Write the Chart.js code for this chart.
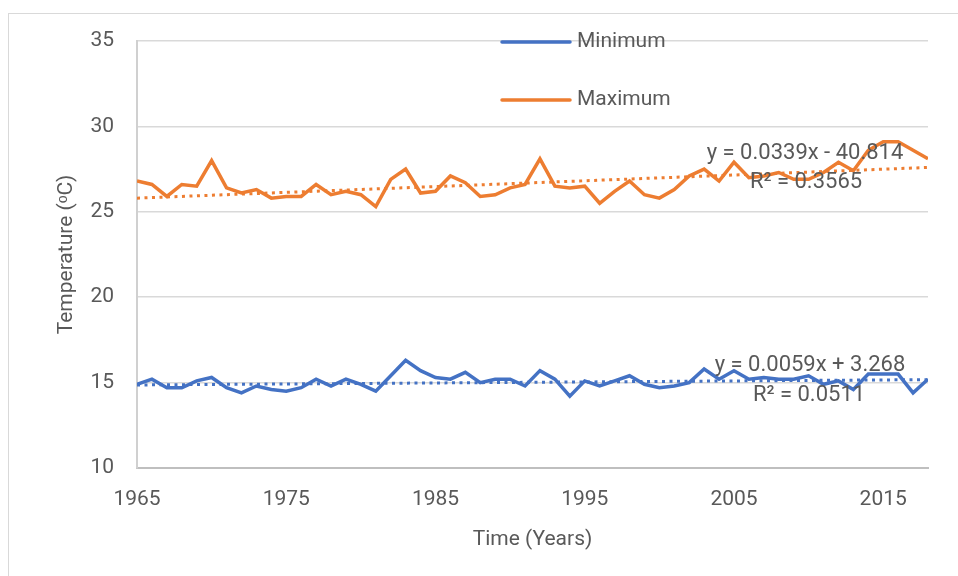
<!DOCTYPE html>
<html>
<head>
<meta charset="utf-8">
<script src="https://cdn.jsdelivr.net/npm/chart.js@4.4.1/dist/chart.umd.min.js"></script>
<style>
  html, body { margin: 0; padding: 0; background: #fff; }
  #wrap { position: relative; width: 958px; height: 576px; overflow: hidden; }
  #frame { position: absolute; left: 8px; top: 13px; width: 960px; height: 600px;
           border-left: 1px solid #d9d9d9; border-top: 1px solid #d9d9d9; }
  #chart { position: absolute; left: 0; top: 0; }
</style>
</head>
<body>
<div id="wrap">
  <div id="frame"></div>
  <canvas id="chart" width="958" height="576"></canvas>
</div>
<script>
// years on the x axis
const years = [1965, 1966, 1967, 1968, 1969, 1970, 1971, 1972, 1973, 1974,
  1975, 1976, 1977, 1978, 1979, 1980, 1981, 1982, 1983, 1984,
  1985, 1986, 1987, 1988, 1989, 1990, 1991, 1992, 1993, 1994,
  1995, 1996, 1997, 1998, 1999, 2000, 2001, 2002, 2003, 2004,
  2005, 2006, 2007, 2008, 2009, 2010, 2011, 2012, 2013, 2014,
  2015, 2016, 2017, 2018];

const minTemp = [14.9, 15.2, 14.7, 14.7, 15.1, 15.3, 14.7, 14.4, 14.8, 14.6,
  14.5, 14.7, 15.2, 14.8, 15.2, 14.9, 14.5, 15.4, 16.3, 15.7,
  15.3, 15.2, 15.6, 15.0, 15.2, 15.2, 14.8, 15.7, 15.2, 14.2,
  15.1, 14.8, 15.1, 15.4, 14.9, 14.7, 14.8, 15.0, 15.8, 15.2,
  15.7, 15.2, 15.3, 15.2, 15.2, 15.4, 14.9, 15.1, 14.6, 15.5,
  15.5, 15.5, 14.4, 15.2];

const maxTemp = [26.8, 26.6, 25.9, 26.6, 26.5, 28.0, 26.4, 26.1, 26.3, 25.8,
  25.9, 25.9, 26.6, 26.0, 26.2, 26.0, 25.3, 26.9, 27.5, 26.1,
  26.2, 27.1, 26.7, 25.9, 26.0, 26.4, 26.6, 28.1, 26.5, 26.4,
  26.5, 25.5, 26.2, 26.8, 26.0, 25.8, 26.3, 27.1, 27.5, 26.8,
  27.9, 27.0, 27.1, 27.3, 26.9, 26.9, 27.3, 27.9, 27.4, 28.6,
  29.1, 29.1, 28.6, 28.1];

// trendline equations printed on the chart: [slope, intercept]
const minTrend = [0.0059, 3.268];
const maxTrend = [0.0339, -40.814];
const minTrendText = ['y = 0.0059x + 3.268', 'R\u00B2 = 0.0511'];
const maxTrendText = ['y = 0.0339x - 40.814', 'R\u00B2 = 0.3565'];

const xTicks = [1965, 1975, 1985, 1995, 2005, 2015];
const seriesNames = ['Minimum', 'Maximum'];

const BLUE = '#4472C4';
const ORANGE = '#ED7D31';
const TEXT = '#595959';
const FONT = 'Roboto, "Liberation Sans", sans-serif';

function toPoints(values) {
  return years.map((y, i) => ({ x: y, y: values[i] }));
}

function trendPoints(coef) {
  const x0 = years[0];
  const x1 = years[years.length - 1];
  return [
    { x: x0, y: coef[0] * x0 + coef[1] },
    { x: x1, y: coef[0] * x1 + coef[1] }
  ];
}

// legend and trendline labels, laid out like the original
const annotations = {
  id: 'annotations',
  afterDatasetsDraw(chart) {
    const ctx = chart.ctx;
    ctx.save();
    ctx.font = '21px ' + FONT;
    ctx.fillStyle = TEXT;
    ctx.textBaseline = 'middle';

    // legend
    const items = [[seriesNames[0], BLUE, 42], [seriesNames[1], ORANGE, 100]];
    items.forEach(([name, color, y]) => {
      ctx.strokeStyle = color;
      ctx.lineWidth = 3.5;
      ctx.lineCap = 'round';
      ctx.beginPath();
      ctx.moveTo(502, y);
      ctx.lineTo(570, y);
      ctx.stroke();
      ctx.textAlign = 'left';
      ctx.fillText(name, 577, y);
    });

    // trendline equations
    ctx.font = '22px ' + FONT;
    ctx.textAlign = 'center';
    ctx.fillText(maxTrendText[0], 805, 153);
    ctx.fillText(maxTrendText[1], 806, 182);
    ctx.fillText(minTrendText[0], 810, 365);
    ctx.fillText(minTrendText[1], 809, 395);
    ctx.restore();
  }
};

const ctx = document.getElementById('chart').getContext('2d');

new Chart(ctx, {
  type: 'line',
  data: {
    datasets: [
      {
        label: 'Linear (Maximum)',
        data: trendPoints(maxTrend),
        borderColor: ORANGE,
        borderWidth: 3,
        borderDash: [3, 4.5],
        pointRadius: 0,
        fill: false
      },
      {
        label: 'Linear (Minimum)',
        data: trendPoints(minTrend),
        borderColor: BLUE,
        borderWidth: 3,
        borderDash: [3, 4.5],
        pointRadius: 0,
        fill: false
      },
      {
        label: seriesNames[0],
        data: toPoints(minTemp),
        borderColor: BLUE,
        borderWidth: 3.5,
        pointRadius: 0,
        tension: 0,
        fill: false
      },
      {
        label: seriesNames[1],
        data: toPoints(maxTemp),
        borderColor: ORANGE,
        borderWidth: 3.5,
        pointRadius: 0,
        tension: 0,
        fill: false
      }
    ]
  },
  options: {
    responsive: false,
    animation: false,
    layout: { padding: { left: 0, top: 41, right: 30, bottom: 0 } },
    plugins: {
      legend: { display: false },
      tooltip: { enabled: false },
      title: { display: false }
    },
    scales: {
      x: {
        type: 'linear',
        min: 1965,
        max: 2018,
        afterBuildTicks(scale) {
          scale.ticks = xTicks.map(v => ({ value: v }));
        },
        afterFit(scale) {
          scale.height = 108;
        },
        grid: { display: false, drawTicks: false },
        border: { display: true, color: '#bfbfbf', width: 2 },
        ticks: {
          color: TEXT,
          font: { family: FONT, size: 21 },
          padding: 19,
          maxRotation: 0,
          autoSkip: false,
          callback: v => String(v)
        },
        title: {
          display: true,
          text: 'Time (Years)',
          color: TEXT,
          font: { family: FONT, size: 21 },
          padding: { top: 0, bottom: 24 }
        }
      },
      y: {
        min: 10,
        max: 35,
        afterFit(scale) {
          scale.width = 137;
        },
        grid: { color: '#d9d9d9', lineWidth: 1.5, drawTicks: false },
        border: { display: true, color: '#d0d0d0', width: 2 },
        ticks: {
          stepSize: 5,
          color: TEXT,
          font: { family: FONT, size: 21 },
          padding: 23
        },
        title: {
          display: true,
          text: 'Temperature (\u1D52C)',
          color: TEXT,
          font: { family: FONT, size: 21 },
          padding: { top: 54, bottom: 0 }
        }
      }
    }
  },
  plugins: [annotations]
});
</script>
</body>
</html>
